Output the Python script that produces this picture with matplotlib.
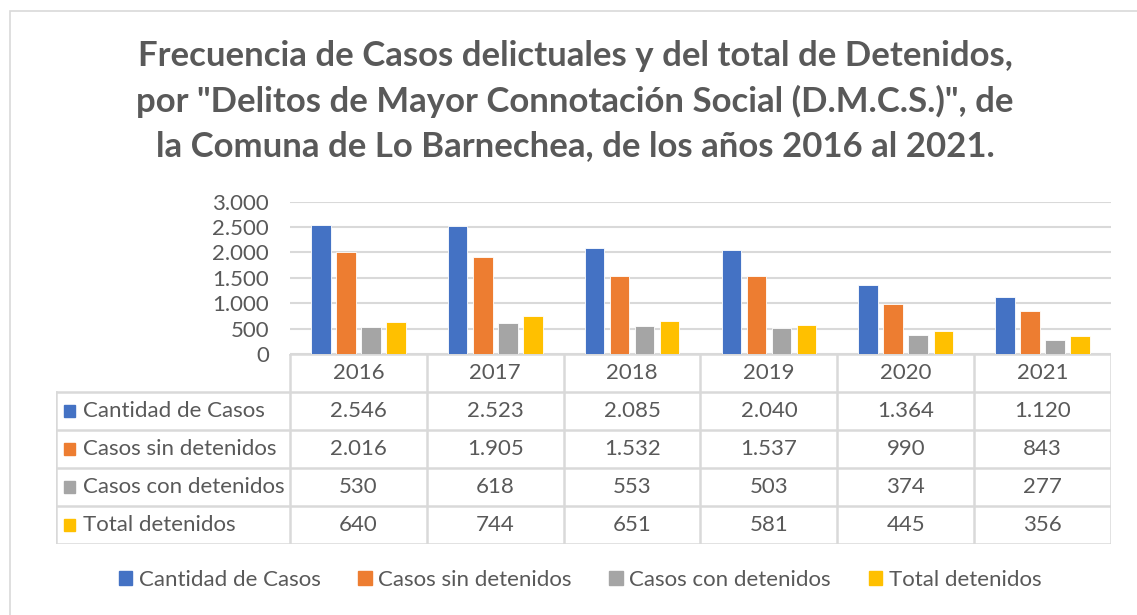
import matplotlib.pyplot as plt
import numpy as np
from matplotlib.patches import Rectangle
from matplotlib.ticker import FuncFormatter

years = ["2016", "2017", "2018", "2019", "2020", "2021"]
series_names = ["Cantidad de Casos", "Casos sin detenidos", "Casos con detenidos", "Total detenidos"]
cantidad_casos = [2546, 2523, 2085, 2040, 1364, 1120]
casos_sin_detenidos = [2016, 1905, 1532, 1537, 990, 843]
casos_con_detenidos = [530, 618, 553, 503, 374, 277]
total_detenidos = [640, 744, 651, 581, 445, 356]

colors = ["#4472C4", "#ED7D31", "#A5A5A5", "#FFC000"]
text_color = "#595959"
grid_color = "#D9D9D9"
font = "Lato"
fs = 16

W, H = 1137, 615
fig = plt.figure(figsize=(W / 100, H / 100), dpi=100)


def fx(px):
    return px / W


def fy(py):
    return 1 - py / H


# outer chart border
fig.patches.append(Rectangle((fx(10), fy(640)), fx(1140), fy(11) - fy(640),
                             transform=fig.transFigure, fill=False,
                             edgecolor=grid_color, linewidth=1.2))

# title
title_lines = [
    'Frecuencia de Casos delictuales y del total de Detenidos,',
    'por "Delitos de Mayor Connotación Social (D.M.C.S.)", de',
    'la Comuna de Lo Barnechea, de los años 2016 al 2021.',
]
for i, line in enumerate(title_lines):
    fig.text(fx(575), fy(56 + 45 * i), line, ha="center", va="center",
             fontsize=25, fontweight="bold", color=text_color, family=font)

# bar area
left, right, top, base = 290, 1111, 201.7, 354
ax = fig.add_axes([fx(left), fy(base), fx(right - left), fy(top) - fy(base)])
data = [cantidad_casos, casos_sin_detenidos, casos_con_detenidos, total_detenidos]
x = np.arange(len(years)) + 0.5
step = 0.183
width = 0.143
for k, vals in enumerate(data):
    ax.bar(x + (k - 1.5) * step, vals, width=width, color=colors[k],
           edgecolor="white", linewidth=0.6, zorder=3)
ax.set_xlim(0, len(years))
ax.set_ylim(0, 3000)
ax.set_yticks(np.arange(0, 3001, 500))
ax.yaxis.set_major_formatter(FuncFormatter(lambda v, p: f"{int(v):,}".replace(",", ".")))
ax.set_xticks([])
ax.grid(axis="y", color=grid_color, linewidth=1.5, zorder=0)
for s in ax.spines.values():
    s.set_visible(False)
ax.tick_params(axis="y", length=0, pad=15, labelsize=fs, labelcolor=text_color)
for lab in ax.get_yticklabels():
    lab.set_family(font)

# data table
tleft, tbottom = 55.7, 544
label_w = (left - tleft) / ((right - left) / len(years))
tax = fig.add_axes([fx(tleft), fy(tbottom), fx(right - tleft), fy(base) - fy(tbottom)])
tax.set_xlim(-label_w, len(years))
tax.set_ylim(5, 0)
tax.axis("off")
lc = dict(color=grid_color, linewidth=1.8, solid_capstyle="projecting")
# horizontal lines
tax.plot([0, len(years)], [0, 0], **lc)
for r in range(1, 6):
    tax.plot([-label_w, len(years)], [r, r], **lc)
# vertical lines
tax.plot([-label_w, -label_w], [1, 5], **lc)
for c in range(len(years) + 1):
    tax.plot([c, c], [0, 5], **lc)
for c, yr in enumerate(years):
    tax.text(c + 0.5, 0.5, yr, ha="center", va="center", fontsize=fs,
             color=text_color, family=font)
for r, (name, vals) in enumerate(zip(series_names, data)):
    yc = r + 1.5
    tax.add_patch(Rectangle((-label_w + 0.06, yc - 0.16), 0.08, 0.32,
                            color=colors[r], zorder=3))
    tax.text(-label_w + 0.2, yc, name, ha="left", va="center", fontsize=fs,
             color=text_color, family=font)
    for c, v in enumerate(vals):
        tax.text(c + 0.5, yc, f"{v:,}".replace(",", "."), ha="center",
                 va="center", fontsize=fs, color=text_color, family=font)

# legend
handles = [Rectangle((0, 0), 1, 1, color=col) for col in colors]
fig.legend(handles, series_names, loc="center", bbox_to_anchor=(fx(580), fy(580)),
           ncol=4, frameon=False, handlelength=0.6, handleheight=0.6,
           handletextpad=0.3, columnspacing=1.7,
           prop={"family": font, "size": fs}, labelcolor=text_color)

fig.savefig("out.png", dpi=100)
